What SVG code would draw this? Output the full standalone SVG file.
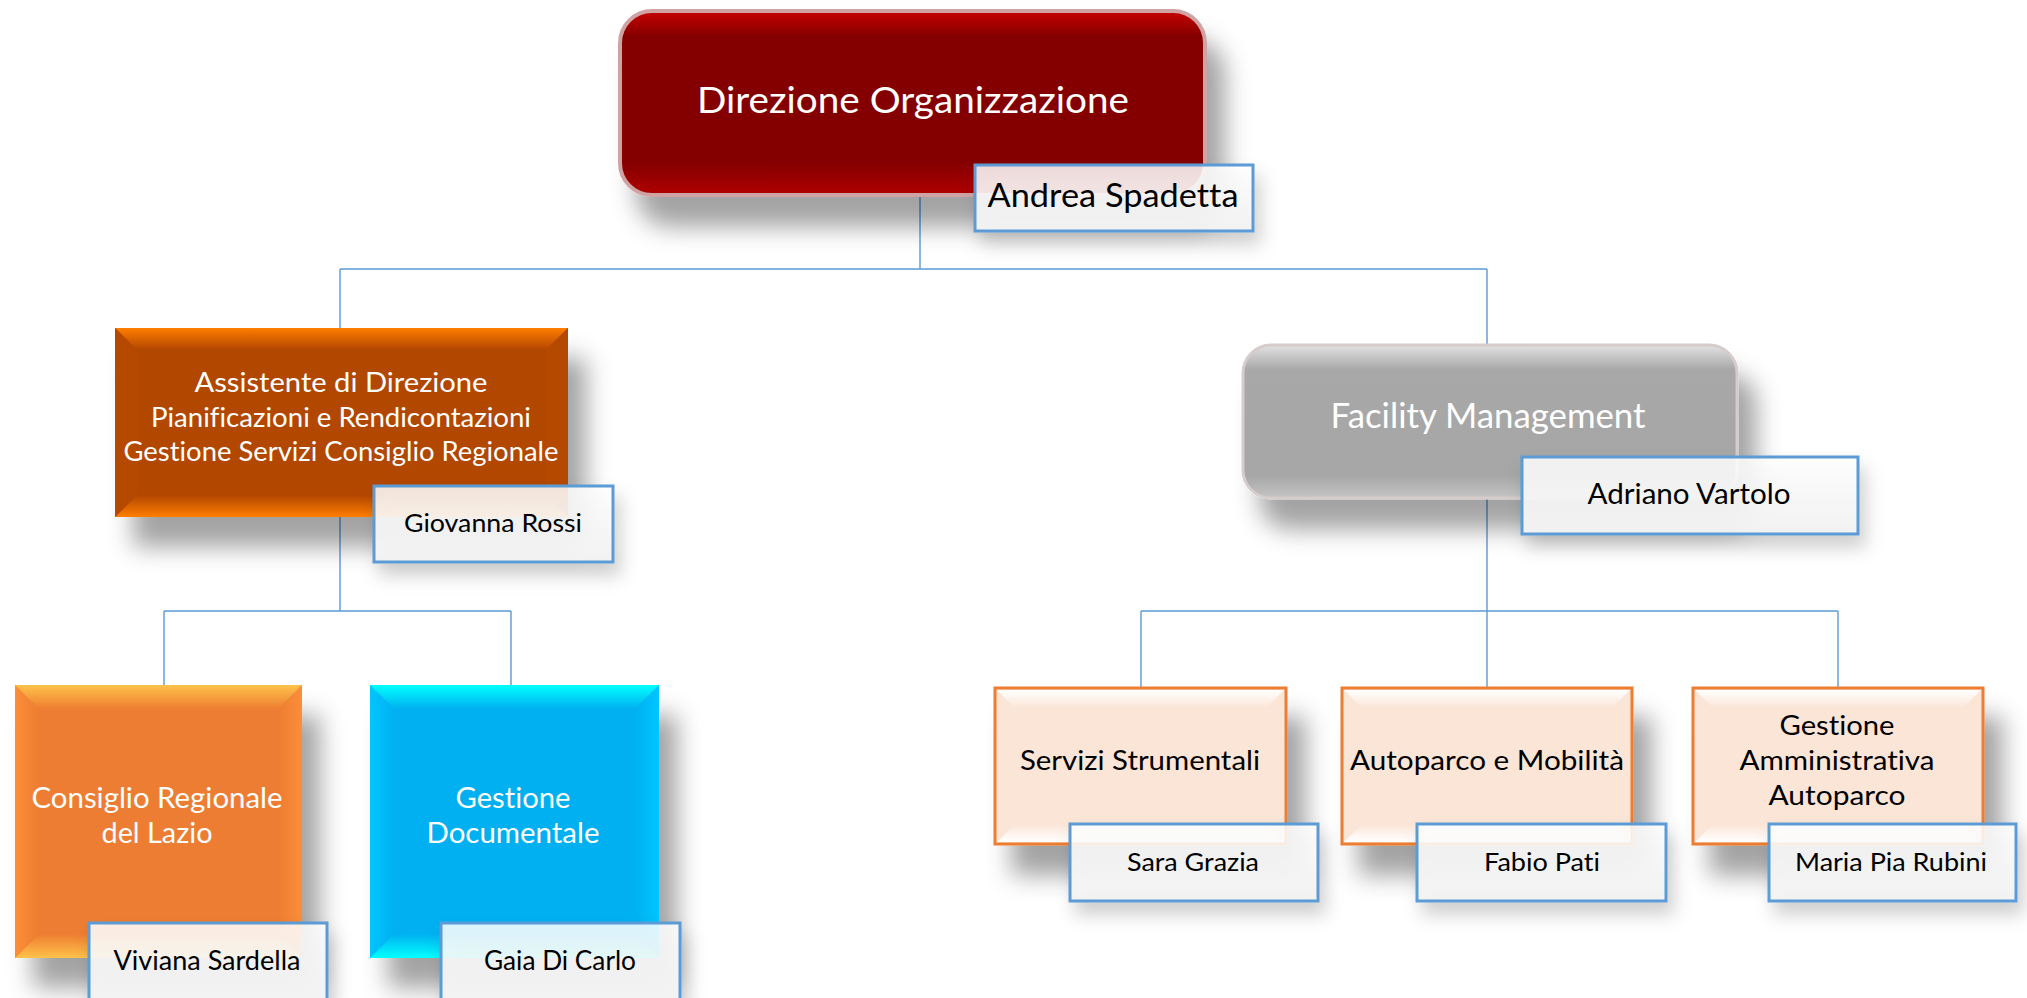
<svg xmlns="http://www.w3.org/2000/svg" width="2027" height="998" viewBox="0 0 2027 998">
<defs>
<filter id="sh" x="-20%" y="-20%" width="150%" height="170%">
<feDropShadow dx="18" dy="30" stdDeviation="12" flood-color="#000" flood-opacity="0.36"/>
</filter>
<filter id="shs" x="-20%" y="-20%" width="150%" height="170%">
<feDropShadow dx="6" dy="12" stdDeviation="9" flood-color="#000" flood-opacity="0.2"/>
</filter>
<linearGradient id="redG" x1="0" y1="0" x2="0" y2="1">
<stop offset="0" stop-color="#c80000"/><stop offset="0.14" stop-color="#840000"/><stop offset="0.82" stop-color="#840000"/><stop offset="1" stop-color="#b00000"/>
</linearGradient>
<linearGradient id="grayG" x1="0" y1="0" x2="0" y2="1">
<stop offset="0" stop-color="#e2e2e2"/><stop offset="0.16" stop-color="#a8a8a8"/><stop offset="0.85" stop-color="#a6a6a6"/><stop offset="1" stop-color="#c4c4c4"/>
</linearGradient>
<linearGradient id="nameG" x1="0" y1="0" x2="0" y2="1">
<stop offset="0" stop-color="#ffffff" stop-opacity="0.85"/><stop offset="1" stop-color="#f2f2f2" stop-opacity="0.97"/>
</linearGradient>
<linearGradient id="oT" x1="0" y1="0" x2="0" y2="1"><stop offset="0" stop-color="#ff7e00"/><stop offset="1" stop-color="#b24600"/></linearGradient>
<linearGradient id="oB" x1="0" y1="1" x2="0" y2="0"><stop offset="0" stop-color="#ff7e00"/><stop offset="1" stop-color="#b24600"/></linearGradient>
<linearGradient id="cT" x1="0" y1="0" x2="0" y2="1"><stop offset="0" stop-color="#ffc24a"/><stop offset="1" stop-color="#ed7d31"/></linearGradient>
<linearGradient id="cB" x1="0" y1="1" x2="0" y2="0"><stop offset="0" stop-color="#ffc24a"/><stop offset="1" stop-color="#ed7d31"/></linearGradient>
<linearGradient id="cL" x1="0" y1="0" x2="1" y2="0"><stop offset="0" stop-color="#fb8e3a"/><stop offset="1" stop-color="#ed7d31"/></linearGradient>
<linearGradient id="cR" x1="1" y1="0" x2="0" y2="0"><stop offset="0" stop-color="#fb8e3a"/><stop offset="1" stop-color="#ed7d31"/></linearGradient>
<linearGradient id="bT" x1="0" y1="0" x2="0" y2="1"><stop offset="0" stop-color="#00ffff"/><stop offset="1" stop-color="#00b0f0"/></linearGradient>
<linearGradient id="bB" x1="0" y1="1" x2="0" y2="0"><stop offset="0" stop-color="#00ffff"/><stop offset="1" stop-color="#00b0f0"/></linearGradient>
<linearGradient id="bL" x1="0" y1="0" x2="1" y2="0"><stop offset="0" stop-color="#00c6ff"/><stop offset="1" stop-color="#00b0f0"/></linearGradient>
<linearGradient id="bR" x1="1" y1="0" x2="0" y2="0"><stop offset="0" stop-color="#00c6ff"/><stop offset="1" stop-color="#00b0f0"/></linearGradient>
<linearGradient id="pT" x1="0" y1="0" x2="0" y2="1"><stop offset="0" stop-color="#ffffff"/><stop offset="1" stop-color="#fbe5d6"/></linearGradient>
<linearGradient id="pB" x1="0" y1="1" x2="0" y2="0"><stop offset="0" stop-color="#ffffff"/><stop offset="1" stop-color="#fbe5d6"/></linearGradient>
</defs>
<style>
.con{fill:none;stroke:#5b9bd5;stroke-width:1.4}
.t{font-family:Lato,"Open Sans","Liberation Sans",sans-serif;text-anchor:middle;font-variant-ligatures:none}
.w{fill:#ffffff}
.k{fill:#000000}
.name{fill:url(#nameG);stroke:#5b9bd5;stroke-width:3}
.peach{fill:#fbe5d6;stroke:#ed7d31;stroke-width:3}
</style>
<rect width="2027" height="998" fill="#ffffff"/>
<g id="connectors">
<path class="con" d="M920,196V269M340,269H1487M340,269V328M1487,269V345M1487,498V611M1141,611H1838M1141,611V688M1487,611V688M1838,611V688M340,517V611M164,611H511M164,611V685M511,611V685"/>
</g>
<g id="n-direzione">
<rect x="620" y="11" width="585" height="184" rx="32" fill="url(#redG)" stroke="#cfa3a3" stroke-width="4" filter="url(#sh)"/>
<text class="t w" x="913" y="113" font-size="36" textLength="432" lengthAdjust="spacingAndGlyphs">Direzione Organizzazione</text>
<rect class="name" x="975" y="165" width="278" height="66" filter="url(#shs)"/>
<text class="t k" x="1113" y="207" font-size="32" textLength="251" lengthAdjust="spacingAndGlyphs">Andrea Spadetta</text>
</g>
<g id="n-assistente">
<g filter="url(#sh)">
<rect x="115" y="328" width="453" height="189" fill="#b24600"/>
<polygon points="115,328 568,328 546,350 137,350" fill="url(#oT)"/>
<polygon points="115,517 568,517 546,495 137,495" fill="url(#oB)"/>
<polygon points="115,328 137,350 137,495 115,517" fill="#b64900"/>
<polygon points="568,328 546,350 546,495 568,517" fill="#b64900"/>
</g>
<text class="t w" x="341" y="392" font-size="26" textLength="293" lengthAdjust="spacingAndGlyphs">Assistente di Direzione</text>
<text class="t w" x="341" y="427" font-size="26" textLength="380" lengthAdjust="spacingAndGlyphs">Pianificazioni e Rendicontazioni</text>
<text class="t w" x="341" y="461" font-size="26" textLength="435" lengthAdjust="spacingAndGlyphs">Gestione Servizi Consiglio Regionale</text>
<rect class="name" x="374" y="486" width="239" height="76" filter="url(#shs)"/>
<text class="t k" x="493" y="532" font-size="25" textLength="178" lengthAdjust="spacingAndGlyphs">Giovanna Rossi</text>
</g>
<g id="n-facility">
<rect x="1243" y="345" width="494" height="153" rx="28" fill="url(#grayG)" stroke="#d6cccc" stroke-width="3" filter="url(#sh)"/>
<text class="t w" x="1488" y="428" font-size="34" textLength="315" lengthAdjust="spacingAndGlyphs">Facility Management</text>
<rect class="name" x="1522" y="457" width="336" height="77" filter="url(#shs)"/>
<text class="t k" x="1689" y="504" font-size="28" textLength="203" lengthAdjust="spacingAndGlyphs">Adriano Vartolo</text>
</g>
<g id="n-consiglio">
<g filter="url(#sh)">
<rect x="15" y="685" width="287" height="273" fill="#ed7d31"/>
<polygon points="15,685 39,709 39,934 15,958" fill="url(#cL)"/>
<polygon points="302,685 278,709 278,934 302,958" fill="url(#cR)"/>
<polygon points="15,685 302,685 278,709 39,709" fill="url(#cT)"/>
<polygon points="15,958 302,958 278,934 39,934" fill="url(#cB)"/>
</g>
<text class="t w" x="157" y="808" font-size="28" textLength="251" lengthAdjust="spacingAndGlyphs">Consiglio Regionale</text>
<text class="t w" x="157" y="843" font-size="28" textLength="111" lengthAdjust="spacingAndGlyphs">del Lazio</text>
<rect class="name" x="89" y="923" width="238" height="80" filter="url(#shs)"/>
<text class="t k" x="207" y="970" font-size="26" textLength="187" lengthAdjust="spacingAndGlyphs">Viviana Sardella</text>
</g>
<g id="n-documentale">
<g filter="url(#sh)">
<rect x="370" y="685" width="289" height="273" fill="#00b0f0"/>
<polygon points="370,685 394,709 394,934 370,958" fill="url(#bL)"/>
<polygon points="659,685 635,709 635,934 659,958" fill="url(#bR)"/>
<polygon points="370,685 659,685 635,709 394,709" fill="url(#bT)"/>
<polygon points="370,958 659,958 635,934 394,934" fill="url(#bB)"/>
</g>
<text class="t w" x="513" y="808" font-size="28" textLength="115" lengthAdjust="spacingAndGlyphs">Gestione</text>
<text class="t w" x="513" y="843" font-size="28" textLength="173" lengthAdjust="spacingAndGlyphs">Documentale</text>
<rect class="name" x="441" y="923" width="239" height="80" filter="url(#shs)"/>
<text class="t k" x="560" y="970" font-size="26" textLength="152" lengthAdjust="spacingAndGlyphs">Gaia Di Carlo</text>
</g>
<g id="n-servizi">
<g filter="url(#sh)">
<rect class="peach" x="995" y="688" width="291" height="156"/>
<polygon points="997,690 1284,690 1266,708 1015,708" fill="url(#pT)"/>
<polygon points="997,842 1284,842 1266,824 1015,824" fill="url(#pB)"/>
</g>
<text class="t k" x="1140" y="770" font-size="26" textLength="240" lengthAdjust="spacingAndGlyphs">Servizi Strumentali</text>
<rect class="name" x="1070" y="824" width="248" height="77" filter="url(#shs)"/>
<text class="t k" x="1193" y="871" font-size="25" textLength="132" lengthAdjust="spacingAndGlyphs">Sara Grazia</text>
</g>
<g id="n-autoparco">
<g filter="url(#sh)">
<rect class="peach" x="1342" y="688" width="290" height="156"/>
<polygon points="1344,690 1630,690 1612,708 1362,708" fill="url(#pT)"/>
<polygon points="1344,842 1630,842 1612,824 1362,824" fill="url(#pB)"/>
</g>
<text class="t k" x="1487" y="770" font-size="26" textLength="274" lengthAdjust="spacingAndGlyphs">Autoparco e Mobilità</text>
<rect class="name" x="1417" y="824" width="249" height="77" filter="url(#shs)"/>
<text class="t k" x="1542" y="871" font-size="25" textLength="116" lengthAdjust="spacingAndGlyphs">Fabio Pati</text>
</g>
<g id="n-gestamm">
<g filter="url(#sh)">
<rect class="peach" x="1693" y="688" width="290" height="156"/>
<polygon points="1695,690 1981,690 1963,708 1713,708" fill="url(#pT)"/>
<polygon points="1695,842 1981,842 1963,824 1713,824" fill="url(#pB)"/>
</g>
<text class="t k" x="1837" y="735" font-size="26" textLength="115" lengthAdjust="spacingAndGlyphs">Gestione</text>
<text class="t k" x="1837" y="770" font-size="26" textLength="195" lengthAdjust="spacingAndGlyphs">Amministrativa</text>
<text class="t k" x="1837" y="805" font-size="26" textLength="137" lengthAdjust="spacingAndGlyphs">Autoparco</text>
<rect class="name" x="1769" y="824" width="247" height="77" filter="url(#shs)"/>
<text class="t k" x="1891" y="871" font-size="25" textLength="192" lengthAdjust="spacingAndGlyphs">Maria Pia Rubini</text>
</g>
</svg>
